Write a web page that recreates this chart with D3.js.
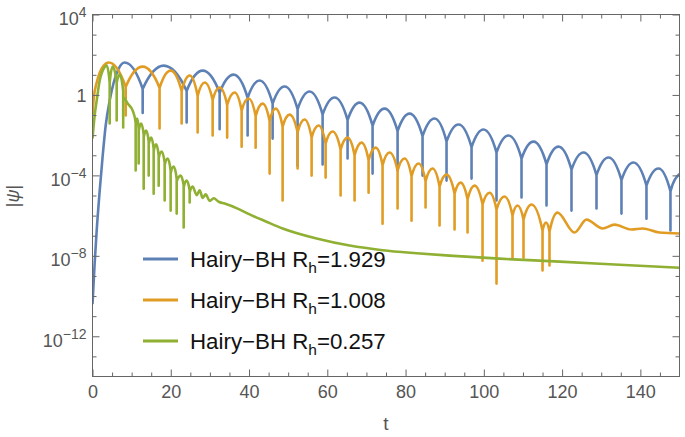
<!DOCTYPE html>
<html><head><meta charset="utf-8">
<script src="https://cdn.jsdelivr.net/npm/d3@7"></script>
<style>body{margin:0;background:#fff}svg{display:block}</style>
</head><body>
<svg id="chart" width="685" height="437"></svg>
<script>
// ---- axis / tick data ----
const tDomain = [0, 150];
const yDomain = [1e-14, 1e4];
const xMajorTicks = [0, 20, 40, 60, 80, 100, 120, 140];
const xMinorTicks = [5,10,15,25,30,35,45,50,55,65,70,75,85,90,95,105,110,115,125,130,135,145];
const yMajorExps = [4, 0, -4, -8, -12];
const yMinorExps = [3,2,1,-1,-2,-3,-5,-6,-7,-9,-10,-11,-13];
const seriesRh = ["1.929", "1.008", "0.257"];
const seriesColors = ["#5E81B5", "#E19C24", "#8FB032"];

// ---- curve data: [t, log10|psi|]; dips: [t, shoulderL, bottomL, (shoulderR)] ----
const blueRise = [[0,-10.4],[0.56,-8.34],[1.07,-6.74],[1.84,-4.76],[2.61,-3.01],[3.37,-1.52],[4.39,-0.28],[5.42,0.62],[6.69,1.31]];
const bluePeaks = [[8.22,1.61],[18.19,1.46],[28.15,1.21],[36.07,1.01],[42.71,0.72],[49.09,0.42],[55.48,0.17],[61.86,-0.13],[68.25,-0.38],[74.63,-0.68],[81.02,-0.93],[87.41,-1.17],[93.54,-1.47],[99.92,-1.72],[106.31,-2.02],[112.69,-2.32],[119.08,-2.57],[125.47,-2.86],[131.85,-3.11],[138.24,-3.36],[144.62,-3.66]];
const blueDips = [[12.82,0.3,-0.9],[24.06,0.2,-1.37],[32.49,0.11,-1.7],[39.64,-0.14,-2.02],[46.03,-0.43,-2.17],[52.41,-0.71,-3.53],[58.80,-0.98,-3.46],[65.18,-1.25,-3.16],[71.57,-1.53,-3.91],[77.96,-1.80,-3.76],[84.34,-2.05,-4.01],[90.47,-2.32,-4.26],[96.86,-2.6,-4.16],[103.24,-2.87,-5.25],[109.63,-3.17,-5.10],[116.02,-3.45,-5.50],[122.40,-3.72,-5.75],[128.79,-3.99,-5.65],[135.17,-4.24,-5.90],[141.56,-4.51,-6.15],[147.69,-4.80,-6.74]];
const blueTail = [[150,-3.93]];

const orangeRise = [[0,-1.02],[0.31,-0.18],[1.07,0.62],[1.84,1.11],[2.86,1.46]];
const orangePeaks = [[4.14,1.61],[12.82,1.41],[19.97,1.21],[24.83,0.97],[28.66,0.62],[32.49,0.37],[36.32,0.12],[39.90,-0.18],[43.47,-0.43],[46.79,-0.68],[50.37,-0.98],[54.20,-1.22],[57.78,-1.52],[61.35,-1.82],[65.18,-2.12],[68.76,-2.37],[72.34,-2.62],[75.91,-2.86],[79.74,-3.16],[83.32,-3.41],[86.90,-3.66],[90.47,-3.96],[94.05,-4.36],[97.62,-4.51],[101.46,-4.86],[105.29,-5.05],[108.61,-5.50],[112.18,-5.45],[115.9,-6.35],[118.82,-5.85]];
const orangeDips = [[8.48,0.4,-1.02],[17.14,0.35,-1.67],[22.78,0.2,-1.42],[26.87,-0.05,-1.87],[30.70,-0.25,-2.02],[34.41,-0.5,-2.12],[38.11,-0.78,-2.57],[41.69,-1.05,-2.62],[45.26,-1.3,-3.91],[48.58,-1.58,-5.25],[52.41,-1.85,-3.66],[55.99,-2.12,-4.01],[59.57,-2.42,-4.11],[63.40,-2.72,-5.00],[66.97,-3.0,-5.25],[70.55,-3.25,-4.86],[74.12,-3.49,-6.40],[77.96,-3.76,-5.65],[81.53,-4.04,-6.25],[85.11,-4.29,-5.60],[88.69,-4.56,-6.49],[92.52,-4.91,-6.69],[95.84,-5.19,-6.84],[99.67,-5.44,-8.24],[103.24,-5.7,-9.38],[107.33,-6.0,-8.09],[110.14,-6.2,-8.09],[115.00,-6.75,-8.73],[116.78,-6.8,-8.48]];
const orangeTail = [[123.17,-6.84],[126.23,-6.20],[130.32,-6.64],[133.38,-6.45],[137.73,-6.69],[140.54,-6.64],[144.88,-6.84],[150,-6.89]];

const greenRise = [[0,-2.17],[0.56,-1.0],[1.07,-0.28],[1.84,0.72],[2.61,1.21]];
const greenPeaks = [[3.63,1.46],[5.16,1.41],[6.95,1.01],[8.99,-0.43],[10.27,-0.78],[11.42,-1.17],[12.44,-1.42],[13.72,-1.77],[15.0,-2.12],[16.27,-2.46],[17.68,-2.81],[19.21,-3.16],[20.74,-3.56],[22.53,-4.01],[24.06,-4.26],[25.59,-4.56]];
const greenDips = [[4.39,0.6,-1.42],[6.18,0.6,-1.27],[7.84,0.2,-1.62,-0.1],[11.03,-1.37,-3.76,-1.5],[11.80,-1.67,-3.41,-1.8],[13.08,-1.97,-4.66,-2.1],[14.36,-2.32,-4.01,-2.45],[15.63,-2.67,-4.91,-2.8],[16.91,-3.01,-4.51,-3.15],[18.44,-3.36,-5.25,-3.5],[19.97,-3.76,-5.75,-3.9],[21.51,-4.16,-5.90,-4.3],[23.30,-4.51,-6.59,-4.6],[24.83,-4.76,-5.35,-4.85]];
const greenTail = [[26.62,-4.98],[27.39,-4.74],[28.15,-5.12],[28.92,-4.94],[29.94,-5.27],[30.96,-5.14],[32.23,-5.31],[33.76,-5.40],[37.08,-5.65],[40.15,-5.94],[44.3,-6.29],[48.58,-6.64],[57.27,-7.14],[65.70,-7.49],[74.12,-7.72],[82.81,-7.87],[91.24,-7.99],[104.0,-8.14],[119.34,-8.29],[134.66,-8.44],[150,-8.59]];

const series = [
  {rise: blueRise, peaks: bluePeaks, dips: blueDips, tail: blueTail},
  {rise: orangeRise, peaks: orangePeaks, dips: orangeDips, tail: orangeTail},
  {rise: greenRise, peaks: greenPeaks, dips: greenDips, tail: greenTail}
];

function buildPoints(s) {
  const items = [];
  s.rise.concat(s.peaks, s.tail).forEach(p => items.push({t: p[0], pts: [p]}));
  s.dips.forEach(d => {
    const sr = d.length > 3 ? d[3] : d[1];
    items.push({t: d[0], pts: [[d[0], d[1]], [d[0], d[2]], [d[0], sr]]});
  });
  items.sort((a, b) => a.t - b.t);
  return items.flatMap(i => i.pts);
}

// ---- layout ----
const X0 = 92.5, X1 = 679.5, Y0 = 14.5, Y1 = 376.5;
const svg = d3.select("#chart");
const x = d3.scaleLinear().domain(tDomain).range([X0, X1]);
const y = d3.scaleLog().domain(yDomain).range([Y1, Y0]);
const FONT = "'Liberation Sans', Arial, sans-serif";
const frameColor = "#666";
const labelColor = "#555";

svg.append("defs").append("clipPath").attr("id", "clip")
  .append("rect").attr("x", X0).attr("y", Y0).attr("width", X1 - X0).attr("height", Y1 - Y0);

const line = d3.line()
  .x(d => x(d[0]))
  .y(d => y(Math.pow(10, d[1])))
  .curve(d3.curveMonotoneX);

const plot = svg.append("g").attr("clip-path", "url(#clip)");
series.forEach((s, i) => {
  plot.append("path")
    .attr("d", line(buildPoints(s)))
    .attr("fill", "none")
    .attr("stroke", seriesColors[i])
    .attr("stroke-width", 2.6)
    .attr("stroke-linejoin", "round")
    .attr("stroke-linecap", "butt");
});

function styleAxis(g) {
  g.select(".domain").remove();
  g.selectAll(".tick line").attr("stroke", frameColor).attr("stroke-width", 1);
  g.selectAll(".tick text").attr("fill", labelColor).attr("font-family", FONT).attr("font-size", 18);
}
svg.append("g").attr("transform", `translate(0,${Y1})`)
  .call(d3.axisBottom(x).tickValues(xMajorTicks).tickSize(-7).tickPadding(9).tickFormat(d3.format("d")))
  .call(styleAxis);
svg.append("g").attr("transform", `translate(0,${Y1})`)
  .call(d3.axisBottom(x).tickValues(xMinorTicks).tickSize(-4).tickFormat(""))
  .call(styleAxis);
svg.append("g").attr("transform", `translate(0,${Y0})`)
  .call(d3.axisTop(x).tickValues(xMajorTicks).tickSize(-7).tickFormat(""))
  .call(styleAxis);
svg.append("g").attr("transform", `translate(0,${Y0})`)
  .call(d3.axisTop(x).tickValues(xMinorTicks).tickSize(-4).tickFormat(""))
  .call(styleAxis);

const yMajorVals = yMajorExps.map(e => Math.pow(10, e));
const yMinorVals = yMinorExps.map(e => Math.pow(10, e));
const leftAxis = svg.append("g").attr("transform", `translate(${X0},0)`)
  .call(d3.axisLeft(y).tickValues(yMajorVals).tickSize(-7).tickPadding(6).tickFormat(() => ""))
  .call(styleAxis);
leftAxis.selectAll(".tick text").each(function(d) {
  const e = Math.round(Math.log10(d));
  const s = d3.select(this);
  s.text(null);
  if (e === 0) {
    s.attr("dy", "7px").text("1");
  } else {
    s.attr("dy", "10px");
    s.append("tspan").text("10");
    s.append("tspan").attr("dy", "-8px").attr("font-size", 14).text(e < 0 ? "\u2212" + (-e) : String(e));
  }
});
svg.append("g").attr("transform", `translate(${X0},0)`)
  .call(d3.axisLeft(y).tickValues(yMinorVals).tickSize(-4).tickFormat(""))
  .call(styleAxis);
svg.append("g").attr("transform", `translate(${X1},0)`)
  .call(d3.axisRight(y).tickValues(yMajorVals).tickSize(-7).tickFormat(""))
  .call(styleAxis);
svg.append("g").attr("transform", `translate(${X1},0)`)
  .call(d3.axisRight(y).tickValues(yMinorVals).tickSize(-4).tickFormat(""))
  .call(styleAxis);

svg.append("rect").attr("x", X0).attr("y", Y0).attr("width", X1 - X0).attr("height", Y1 - Y0)
  .attr("fill", "none").attr("stroke", frameColor).attr("stroke-width", 1);

svg.append("text").attr("x", 386).attr("y", 430).attr("text-anchor", "middle")
  .attr("font-family", FONT).attr("font-size", 19).attr("fill", labelColor).text("t");
const yt = svg.append("text").attr("transform", "translate(19,196) rotate(-90)").attr("text-anchor", "middle")
  .attr("font-family", FONT).attr("font-size", 18).attr("fill", labelColor);
yt.append("tspan").text("|");
yt.append("tspan").attr("font-style", "italic").text("\u03C8");
yt.append("tspan").text("|");

const legendY = [259, 300, 341];
seriesRh.forEach((rh, i) => {
  const g = svg.append("g");
  g.append("line").attr("x1", 143).attr("x2", 178).attr("y1", legendY[i]).attr("y2", legendY[i])
    .attr("stroke", seriesColors[i]).attr("stroke-width", 2.8);
  const t = g.append("text").attr("x", 190).attr("y", legendY[i] + 7.5)
    .attr("font-family", FONT).attr("font-size", 22.3).attr("fill", "#111");
  t.append("tspan").text("Hairy\u2212BH R");
  t.append("tspan").attr("font-size", 15.5).attr("dy", 6).text("h");
  t.append("tspan").attr("dy", -6).text("=" + rh);
});
</script>
</body></html>
